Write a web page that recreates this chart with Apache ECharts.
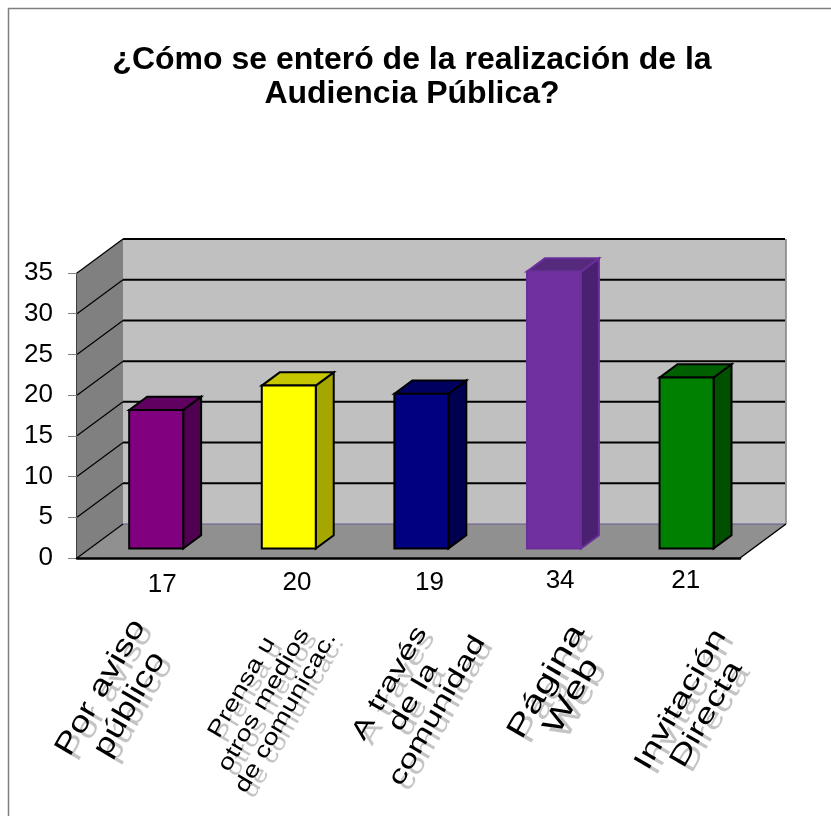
<!DOCTYPE html>
<html><head><meta charset="utf-8">
<style>html,body{margin:0;padding:0;background:#fff}#c{width:831px;height:816px}</style>
<script src="https://cdn.jsdelivr.net/npm/echarts@6/dist/echarts.min.js"></script>
</head><body><div id="c"></div>
<script>
const chartTitle = '¿Cómo se enteró de la realización de la\nAudiencia Pública?';
const categories = ['Por aviso\npúblico', 'Prensa u\notros medios\nde comunicac.', 'A través\nde la\ncomunidad', 'Página\nWeb', 'Invitación\nDirecta'];
const values = [17, 20, 19, 34, 21];
const yTicks = [0, 5, 10, 15, 20, 25, 30, 35];

// styling (not data)
const frontColors = ['#800080', '#ffff00', '#000080', '#7030a0', '#008000'];
const sideColors = ['#500050', '#a6a600', '#000050', '#4a2070', '#005000'];
const topColors = ['#600060', '#c6c600', '#000060', '#552a7d', '#006000'];
const edgeColors = ['#000', '#000', '#000', '#6a2f9a', '#000'];
const labelFont = [29, 22, 25, 29, 27];
const labelStretch = [1.26, 1.28, 1.38, 1.4, 1.38];
const labelLeading = [1.15, 1.15, 1.1, 1.0, 1.1];
const labelDx = [-28, -12, 5, 18, 20];
const labelDy = [138, 142, 139, 131, 149];
const valueDx = [19, 21, 21, 19, 12];
const valueDy = [27, 25, 25, 23, 23];
const DX = 46, DY = -34;        // full depth of the box
const BW = 54, D0 = 0.28, D1 = 0.67;

const chart = echarts.init(document.getElementById('c'));

function poly(points, fill, stroke, lw) {
  return {type: 'polygon', shape: {points}, style: {fill, stroke: stroke || 'none', lineWidth: lw || 0}};
}
function line(a, b, stroke, lw) {
  return {type: 'line', shape: {x1: a[0], y1: a[1], x2: b[0], y2: b[1]}, style: {stroke, lineWidth: lw}};
}
function renderBox(params, api) {
  const x0 = api.coord([0, 0]), top = api.coord([0, 35]);
  const half = api.size([1, 0])[0] / 2;
  const L = x0[0] - half, R = x0[0] + half * 9, B = x0[1], T = top[1];
  const ch = [
    poly([[L + DX, T + DY], [R + DX, T + DY], [R + DX, B + DY], [L + DX, B + DY]], '#c0c0c0'),
    poly([[L, T], [L + DX, T + DY], [L + DX, B + DY], [L, B]], '#808080'),
    poly([[L, B], [L + DX, B + DY], [R + DX, B + DY], [R, B]], '#909090')
  ];
  yTicks.forEach(t => {
    const y = api.coord([0, t])[1];
    if (t > 0) ch.push(line([L + DX, y + DY], [R + DX - 1, y + DY], '#000', 2));
    ch.push(line([L, y], [L + DX, y + DY], '#000', 1.2));
  });
  ch.push(line([L + DX, B + DY], [R + DX, B + DY], '#6a5a90', 1));
  ch.push(line([R + DX, T + DY], [R + DX, B + DY], '#808080', 1.5));
  ch.push(line([R, B], [R + DX, B + DY], '#000', 1.5));
  return {type: 'group', children: ch};
}
function renderBar(params, api) {
  const i = params.dataIndex;
  const p0 = api.coord([i, 0]), p1 = api.coord([i, api.value(1)]);
  const ox = DX * D0, oy = DY * D0, dx = DX * (D1 - D0), dy = DY * (D1 - D0);
  const l = p0[0] - BW / 2 + ox, r = l + BW, b = p0[1] + oy, t = p1[1] + oy;
  const e = edgeColors[i];
  return {type: 'group', children: [
    poly([[r, t], [r + dx, t + dy], [r + dx, b + dy], [r, b]], sideColors[i], e, 2),
    poly([[l, t], [l + dx, t + dy], [r + dx, t + dy], [r, t]], topColors[i], e, 2),
    poly([[l, t], [r, t], [r, b], [l, b]], frontColors[i], e, 2)
  ]};
}
function renderLabels(params, api) {
  const i = params.dataIndex;
  const p = api.coord([i, 0]);
  const common = {x: p[0] + labelDx[i], y: p[1] + labelDy[i], rotation: Math.PI / 3, scaleX: labelStretch[i]};
  const text = api.value(2);
  const sty = (fill) => ({text, fill, font: labelFont[i] + 'px "Liberation Sans"', align: 'center', verticalAlign: 'middle', lineHeight: labelFont[i] * labelLeading[i]});
  return {type: 'group', children: [
    Object.assign({type: 'text', style: sty('#c4c4c4')}, common, {x: common.x + 8, y: common.y + 5}),
    Object.assign({type: 'text', style: sty('#000')}, common),
    {type: 'text', x: p[0] + valueDx[i], y: p[1] + valueDy[i], style: {text: String(api.value(1)), fill: '#000', font: '26px "Liberation Sans"', align: 'center', verticalAlign: 'middle'}}
  ]};
}
const barData = categories.map((c, i) => [i, values[i], c]);

chart.setOption({
  animation: false,
  backgroundColor: '#fff',
  title: {
    text: chartTitle, left: 407, top: 38, textAlign: 'center',
    textStyle: {fontFamily: 'Liberation Sans', fontWeight: 'bold', fontSize: 32, lineHeight: 34, color: '#000'}
  },
  graphic: [{type: 'rect', shape: {x: 8.5, y: 8.5, width: 840, height: 840}, style: {fill: 'none', stroke: '#808080', lineWidth: 1.5}, silent: true}],
  grid: {left: 77, right: 91, top: 273, bottom: 258},
  xAxis: {type: 'category', data: categories, axisLine: {show: true, onZero: true, lineStyle: {color: '#000', width: 2.5}}, axisTick: {show: false}, axisLabel: {show: false}, z: 5},
  yAxis: {
    type: 'value', min: 0, max: 35, interval: 5,
    splitLine: {show: false},
    axisLine: {show: true, lineStyle: {color: '#000', width: 1.5}},
    axisTick: {show: true, length: 9, lineStyle: {color: '#808080', width: 1}},
    axisLabel: {color: '#000', fontSize: 26, fontFamily: 'Liberation Sans', margin: 24, padding: [14, 0, 0, 0]}
  },
  series: [
    {type: 'custom', z: 1, silent: true, data: [[0, 0]], renderItem: renderBox, encode: {x: 0, y: 1}},
    {type: 'custom', z: 3, silent: true, data: barData, renderItem: renderBar, encode: {x: 0, y: 1}, clip: false},
    {type: 'custom', z: 4, silent: true, data: barData, renderItem: renderLabels, encode: {x: 0, y: 1}, clip: false}
  ]
});
</script></body></html>
